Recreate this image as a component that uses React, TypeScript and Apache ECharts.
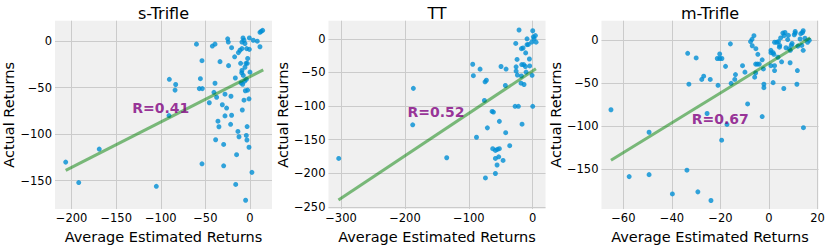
import React, { useEffect, useRef } from "react";
import * as echarts from "echarts";

const panelTitles = ["s-Trifle", "TT", "m-Trifle"];
const xAxisTitle = "Average Estimated Returns";
const yAxisTitle = "Actual Returns";
const rLabels = ["R=0.41", "R=0.52", "R=0.67"];

const sTriflePoints: number[][] = [
  [-206.6, -130], [-192, -152], [-169, -116], [-105, -156], [-90.4, -41], [-90.8, -80],
  [-83.3, -46.6], [-84, -52.6], [-60, -3.2], [-53.8, -21], [-55.6, -40.3], [-56.8, -51],
  [-53.4, -51], [-42.2, -5.3], [-39.2, -3.2], [-33.6, -22], [-39.2, -45.2], [-40.4, -55],
  [-37.4, -60.3], [-45.6, -66.2], [-25, 2.5], [-24.3, -1], [-20.6, -7], [-24, -26.3],
  [-28, -57], [-21.3, -59.2], [-31, -68.3], [-26.2, -71.9], [-17.2, -16.8], [-13, -12.3],
  [-11.2, -9.8], [-9, -8], [-16.4, -39.6], [-10, -44.9], [-9.3, -34], [-9, -31.5],
  [-7.5, -36.8], [-8.2, -46.3], [-10.5, -23.8], [-4.5, -23.8], [-3, -23.8], [-5.6, -28],
  [-6, -43], [-4, -41], [-2.6, -18.6], [0, -33.3], [-7.8, 3.5], [-6.7, 1], [-9, -1],
  [-5.6, -2.5], [-3.7, -8], [-0.7, -8.8], [-0.7, 3.5], [3.7, 1], [8.2, 0], [11.2, -6],
  [11.2, 9.5], [14.2, 11.6], [12.5, 10.5], [-5.2, -53.3], [-2.6, -52.6], [-1.1, -62],
  [-6.7, -63.4], [-8.6, -74], [-20.6, -79.6], [-28, -80.3], [-35.9, -86], [-34.8, -92],
  [-21.7, -89.4], [-13.5, -97], [-12.3, -102.7], [-38.5, -106], [-29.5, -111], [-4.1, -101.3],
  [-3.4, -106.2], [-1.1, -114], [-3.2, -91.8], [-15, -122], [-53.8, -131.8], [-29.5, -134],
  [2.2, -141], [-16, -154], [-4.9, -171],
];

const ttPoints: number[][] = [
  [-303.6, -178], [-186.8, -73.7], [-187.8, -128], [-134.6, -177], [-93.9, -37.8], [-92.9, -54.8],
  [-82.4, -45.1], [-74.6, -64], [-72.5, -61.6], [-75.6, -91.7], [-88, -146.5], [-71, -132.5],
  [-63.6, -108], [-61.5, -109], [-52.2, -122.8], [-49.6, -41.2], [-41.7, -45], [-42.8, -69.4],
  [-42.3, -139.7], [-36, -159], [-62.6, -163.5], [-58.4, -166], [-55.3, -164.5], [-52.2, -163.5],
  [-58.4, -178], [-53.2, -175.6], [-55.8, -187.8], [-46.4, -181], [-58.4, -200.4], [-74, -207],
  [-21.4, 13.1], [-26.6, -6.8], [-17.7, -14.6], [-15.1, -13.6], [-26, -41.7], [-26, -48],
  [-24, -53.9], [-24.5, -30.6], [-17.2, -38.3], [-14, -38.3], [-11.5, -41.2], [-17.7, -55.3],
  [-18.3, -66], [-13.6, -68], [-10.4, -49.5], [-11, -20.9], [-8.9, 0], [-8.9, -8.7],
  [-6.8, -8.3], [-5.2, -30], [-16.7, -127], [-27.6, -100.4], [-22.4, -100.4], [0, -100.4],
  [-1.6, -4.9], [0, 12.1], [1, 3], [2, 0], [4.2, 4.9], [5.2, -4.9], [-1, -54.3], [-4.7, -40.3],
];

const mTriflePoints: number[][] = [
  [-65.1, -80.7], [-57.6, -158.3], [-49.4, -106.8], [-49.4, -156], [-39.8, -178.4], [-33.8, -150.8],
  [-29.3, -176], [-23.9, -186], [-33.5, -15.2], [-30, -20.5], [-33, -51], [-27.7, -45.5],
  [-26.9, -41.7], [-24.2, -45.5], [-25.5, -85], [-17.3, -97.7], [-19.5, -116], [-15.9, -4.2],
  [-21, -52.3], [-20.3, -16], [-20.3, -21.2], [-21.3, -21.2], [-19.4, -21.2], [-17.9, -30.3],
  [-15.6, -50], [-14.1, -45.5], [-13.8, -39.8], [-10.9, -29.5], [-9.9, -37], [-8.8, -73.9],
  [-7.6, -1.5], [-7, 1.1], [-6.2, 5.3], [-6.9, -6.4], [-5.4, -9.8], [-4.6, -16.3],
  [-5.5, -27.7], [-4.8, -27.7], [-4, -27.7], [-5.9, -42.8], [-5.5, -37.9], [-2.3, -33.3],
  [-2.8, -22.7], [-2.1, -51], [-2.1, -55], [-2.8, -88.6], [0.8, -11.7], [0.8, -14.4],
  [1.7, -14.4], [2, -16.3], [2.3, -29.5], [0.8, -29.5], [1.7, -49.2], [2.3, -35.2],
  [3.7, -19.7], [4.3, -8], [3.2, -2.3], [3.9, -1.5], [5.2, -25], [5.7, 8.3], [6.6, 9],
  [6.2, 5.3], [6.1, -56], [7, -8.7], [7.7, 0.8], [8, 5.7], [8.4, -9.8], [8.8, -11.7],
  [9.2, -5.7], [9.5, -3.8], [8.7, -26.1], [10.4, 6.4], [10.8, 8.3], [11.5, -51.1],
  [11.7, -35.2], [11.9, -6.8], [12.8, 1.5], [13.1, 7.6], [13.8, 9], [13.5, -6],
  [14.1, -11.7], [14.8, 2.3], [15.9, -2.3], [16.6, 0], [14.2, -101.5], [4.8, 2.7],
  [10.8, 10.2], [14.1, 11], [2.3, -2.3], [4.4, -6],
];

const sTrifleFit: number[][] = [[-206.6, -138.8], [14.9, -30.8]];
const ttFit: number[][] = [[-304, -240], [5, -44.5]];
const mTrifleFit: number[][] = [[-65.1, -139.3], [17, 3]];

// annotation anchors (data coordinates)
const rAnchors: number[][] = [[-132, -72], [-196, -109], [-31.8, -91]];

const xTicks: number[][] = [
  [-200, -150, -100, -50, 0],
  [-300, -200, -100, 0],
  [-60, -40, -20, 0, 20],
];
const yTicks: number[][] = [
  [-150, -100, -50, 0],
  [-250, -200, -150, -100, -50, 0],
  [-150, -100, -50, 0],
];
const xLimits: number[][] = [[-218.6, 24.7], [-319.6, 20], [-69, 20.4]];
const yLimits: number[][] = [[-180.5, 22], [-253.4, 27], [-196, 22.7]];

const FONT = "DejaVu Sans";
const TEXT = "#000";

const fmt = (v: number) => (v < 0 ? "\u2212" + Math.abs(v) : String(v));

export default function App() {
  const ref = useRef<HTMLDivElement>(null);
  useEffect(() => {
    if (!ref.current) return;
    const chart = echarts.init(ref.current, undefined, { renderer: "svg" });
    const lefts = [55, 328.5, 601.5];
    const W = 217;
    const TOP = 20.7;
    const H = 192.6;
    const pointsSets = [sTriflePoints, ttPoints, mTriflePoints];
    const fits = [sTrifleFit, ttFit, mTrifleFit];

    const grids = lefts.map((l) => ({
      left: l,
      top: TOP,
      width: W,
      height: H,
      show: true,
      backgroundColor: "#f0f0f0",
      borderWidth: 0,
    }));

    const xAxes = lefts.map((_, i) => ({
      type: "value",
      gridIndex: i,
      min: xLimits[i][0],
      max: xLimits[i][1],
      name: xAxisTitle,
      nameLocation: "middle",
      nameGap: 14,
      nameTextStyle: { fontFamily: FONT, fontSize: 14.5, color: TEXT },
      axisLine: { show: false },
      axisTick: { show: false, customValues: xTicks[i] },
      axisLabel: {
        customValues: xTicks[i],
        formatter: fmt,
        fontFamily: FONT,
        fontSize: 11.5,
        color: TEXT,
        margin: 3,
      },
      splitLine: { show: true, lineStyle: { color: "#cbcbcb", width: 1 } },
    }));

    const yAxes = lefts.map((_, i) => ({
      type: "value",
      gridIndex: i,
      min: yLimits[i][0],
      max: yLimits[i][1],
      name: yAxisTitle,
      nameLocation: "middle",
      nameGap: 35,
      nameTextStyle: { fontFamily: FONT, fontSize: 14.5, color: TEXT },
      axisLine: { show: false },
      axisTick: { show: false, customValues: yTicks[i] },
      axisLabel: {
        customValues: yTicks[i],
        formatter: fmt,
        fontFamily: FONT,
        fontSize: 11.5,
        color: TEXT,
        margin: 3,
      },
      splitLine: { show: true, lineStyle: { color: "#cbcbcb", width: 1 } },
    }));

    const series: any[] = [];
    pointsSets.forEach((pts, i) => {
      series.push({
        type: "scatter",
        xAxisIndex: i,
        yAxisIndex: i,
        data: pts,
        symbolSize: 5,
        itemStyle: { color: "#008fd5" },
        z: 2,
      });
      series.push({
        type: "line",
        xAxisIndex: i,
        yAxisIndex: i,
        data: fits[i],
        showSymbol: false,
        symbol: "none",
        lineStyle: { color: "rgba(0,128,0,0.5)", width: 3 },
        z: 3,
      });
      series.push({
        type: "scatter",
        xAxisIndex: i,
        yAxisIndex: i,
        data: [rAnchors[i]],
        symbolSize: 0,
        silent: true,
        label: {
          show: true,
          formatter: rLabels[i],
          position: "right",
          distance: 0,
          color: "#800080",
          fontWeight: "bold",
          fontFamily: FONT,
          fontSize: 14,
        },
        z: 4,
      });
    });

    const graphic = lefts.map((l, i) => ({
      type: "text",
      x: l + W / 2,
      y: 13.3,
      style: {
        text: panelTitles[i],
        fontFamily: FONT,
        fontSize: 16,
        fill: TEXT,
        align: "center",
        verticalAlign: "middle",
        textAlign: "center",
        textVerticalAlign: "middle",
      },
    }));

    chart.setOption({
      animation: false,
      backgroundColor: "#ffffff",
      grid: grids,
      xAxis: xAxes,
      yAxis: yAxes,
      series,
      graphic,
    });
    return () => chart.dispose();
  }, []);
  return (
    <div
      ref={ref}
      style={{ position: "absolute", left: 0, top: 0, width: 830, height: 249 }}
    />
  );
}
